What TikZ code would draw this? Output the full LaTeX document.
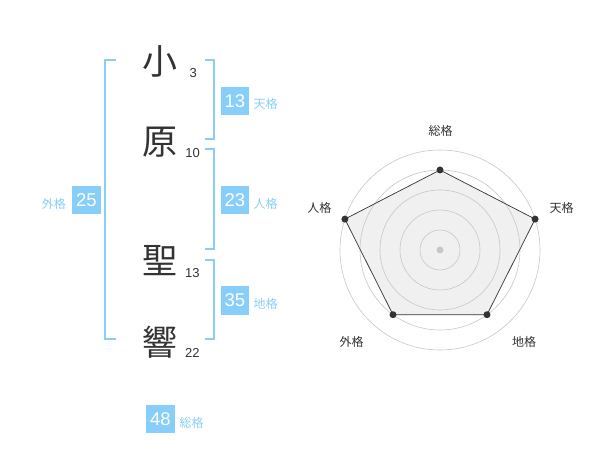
\documentclass[tikz,border=0pt]{standalone}
\usepackage{fontspec}
\setmainfont{Liberation Sans}
\newfontfamily\cjk{Noto Sans CJK JP}
\definecolor{sky}{RGB}{135,206,250}
\definecolor{ink}{RGB}{51,51,51}
\begin{document}
\begin{tikzpicture}[x=1pt,y=-1pt,
  kanji/.style={font=\cjk\fontsize{35}{35}\selectfont,text=ink,inner sep=0pt},
  strokes/.style={font=\fontsize{13}{13}\selectfont,text=ink,inner sep=0pt},
  valbox/.style={fill=sky,text=white,font=\fontsize{18.5}{18.5}\selectfont,minimum width=28.6pt,minimum height=28.4pt,inner sep=0pt},
  kaku/.style={font=\cjk\fontsize{12}{12}\selectfont,text=sky,inner sep=0pt},
  bracket/.style={draw=sky,line width=2pt},
  rlabel/.style={font=\cjk\fontsize{12}{12}\selectfont,text=ink,inner sep=0pt},
  ring/.style={draw=black!22,line width=0.6pt},
  dot/.style={circle,fill=ink,inner sep=0pt,minimum size=7pt}]
\useasboundingbox (0,0) rectangle (600,470);
% name characters
\node[kanji] (c1) at (160,61) {小};
\node[kanji] (c2) at (160,142) {原};
\node[kanji] (c3) at (160,261) {聖};
\node[kanji] (c4) at (160,342) {響};
\node[strokes] (s1) at (193.3,72.7) {3};
\node[strokes] (s2) at (192.7,152.7) {10};
\node[strokes] (s3) at (192.3,272.7) {13};
\node[strokes] (s4) at (192.3,352.7) {22};
% brackets
\draw[bracket] (116,60) -- (105,60) -- (105,339.3) -- (116,339.3);
\draw[bracket] (205,60) -- (214.3,60) -- (214.3,139.3) -- (205,139.3);
\draw[bracket] (205,149.3) -- (214.3,149.3) -- (214.3,249.3) -- (205,249.3);
\draw[bracket] (205,260) -- (214.3,260) -- (214.3,339.3) -- (205,339.3);
% values
\node[valbox] (ten) at (235,100.8) {13};
\node[kaku,anchor=west] (tenl) at (253.5,103.5) {天格};
\node[valbox] (jin) at (235,200) {23};
\node[kaku,anchor=west] (jinl) at (253.5,203.5) {人格};
\node[valbox] (chi) at (235,300.5) {35};
\node[kaku,anchor=west] (chil) at (253.5,303.5) {地格};
\node[valbox] (gai) at (86.5,200) {25};
\node[kaku,anchor=east] (gail) at (66,203.5) {外格};
\node[valbox] (sou) at (160.5,419.2) {48};
\node[kaku,anchor=west] (soul) at (179.5,422.5) {総格};
% radar
\coordinate (o) at (440,250);
\path (o) ++(0,-80) coordinate (p1);
\path (o) ++(95.1,-30.9) coordinate (p2);
\path (o) ++(47.0,64.7) coordinate (p3);
\path (o) ++(-47.0,64.7) coordinate (p4);
\path (o) ++(-95.1,-30.9) coordinate (p5);
\fill[black!6] (p1) -- (p2) -- (p3) -- (p4) -- (p5) -- cycle;
\foreach \r in {20,40,60,80,100} \draw[ring] (o) circle[radius=\r];
\draw[ink,line width=0.7pt] (p1) -- (p2) -- (p3) -- (p4) -- (p5) -- cycle;
\foreach \p in {p1,p2,p3,p4,p5} \node[dot] at (\p) {};
\node[circle,fill=black!22,inner sep=0pt,minimum size=7pt] (oc) at (o) {};
\node[rlabel] (r1) at (440.7,130.7) {総格};
\node[rlabel] (r2) at (561.7,208.3) {天格};
\node[rlabel] (r3) at (319.3,208.3) {人格};
\node[rlabel] (r4) at (524,341.7) {地格};
\node[rlabel] (r5) at (351.7,341.7) {外格};
\end{tikzpicture}
\end{document}
